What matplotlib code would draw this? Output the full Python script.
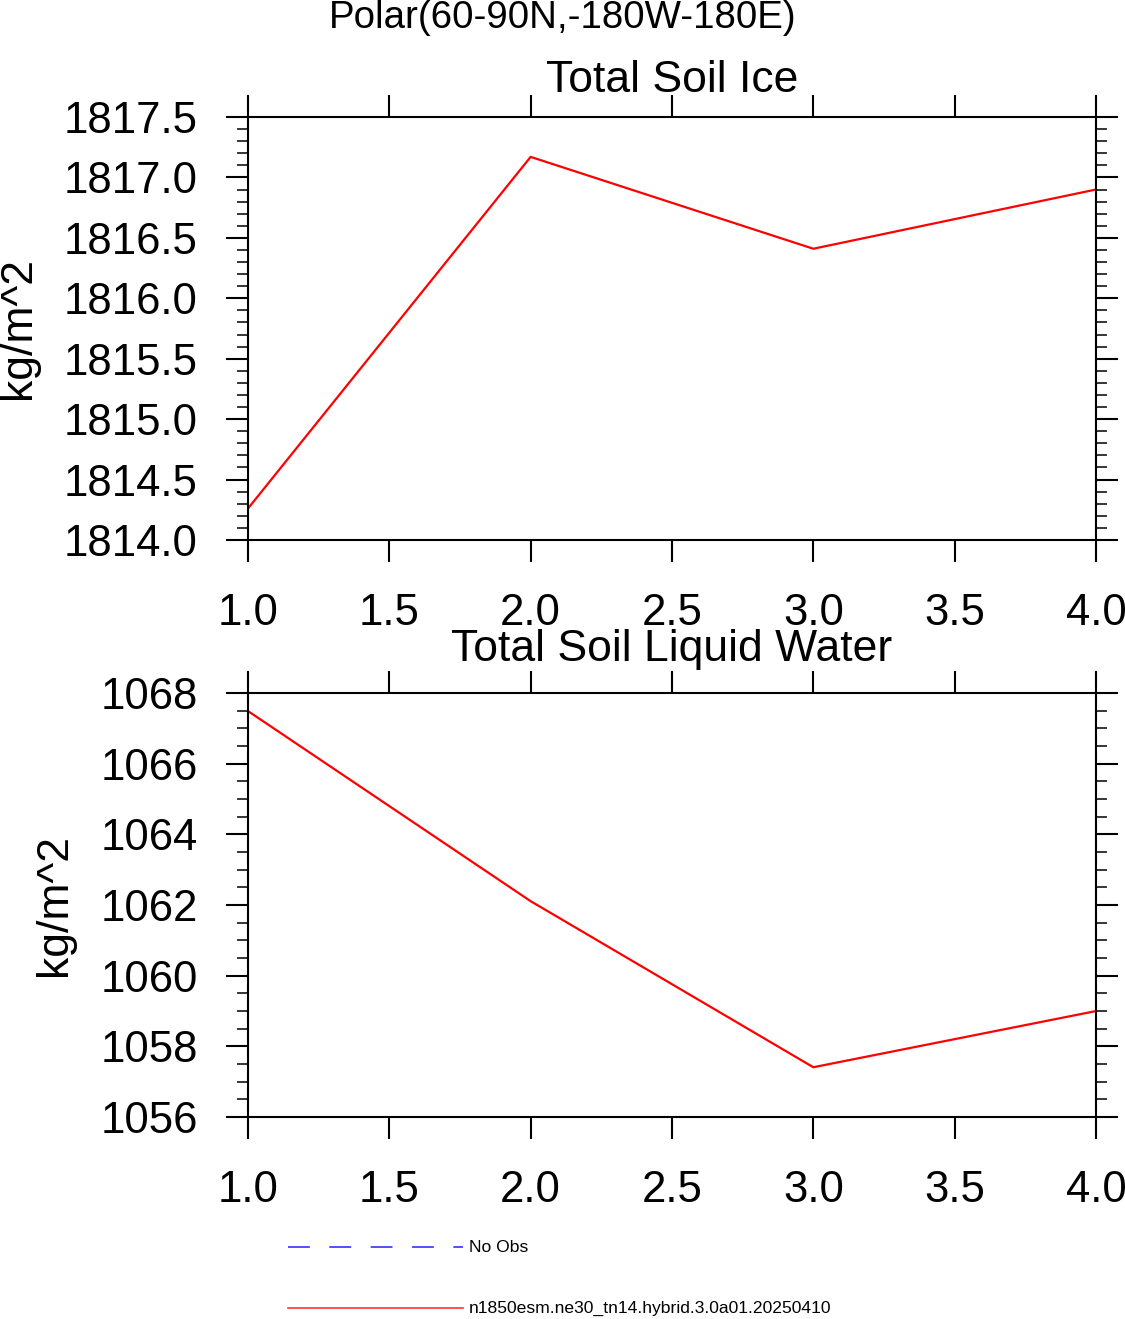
import matplotlib
matplotlib.use('Agg')
import matplotlib.pyplot as plt
from matplotlib.ticker import MultipleLocator, FormatStrFormatter

plt.rcParams['font.family'] = ['Liberation Sans', 'DejaVu Sans']

# data
years = [1, 2, 3, 4]
soil_ice = [1814.26, 1817.17, 1816.41, 1816.90]
soil_liq = [1067.49, 1062.11, 1057.41, 1059.00]
case_name = 'n1850esm.ne30_tn14.hybrid.3.0a01.20250410'

fig = plt.figure(figsize=(11.25, 13.19), dpi=100)

ax1 = fig.add_axes([0.2204, 0.5906, 0.7538, 0.3207])
ax2 = fig.add_axes([0.2204, 0.1531, 0.7538, 0.3215])


def style(ax, ylo, yhi, major, minor, fmt):
    ax.set_xlim(1, 4)
    ax.set_ylim(ylo, yhi)
    ax.xaxis.set_major_locator(MultipleLocator(0.5))
    ax.xaxis.set_major_formatter(FormatStrFormatter('%.1f'))
    ax.yaxis.set_major_locator(MultipleLocator(major))
    ax.yaxis.set_minor_locator(MultipleLocator(minor))
    ax.yaxis.set_major_formatter(FormatStrFormatter(fmt))
    for s in ax.spines.values():
        s.set_linewidth(1.5)
    ax.tick_params(which='both', direction='out', top=True, right=True)
    ax.tick_params(which='major', length=16, width=1.5, labelsize=31.5)
    ax.tick_params(axis='x', which='major', pad=22)
    ax.tick_params(axis='y', which='major', pad=20)
    ax.tick_params(which='minor', length=8, width=1.1)
    ax.set_ylabel('kg/m^2', fontsize=32, labelpad=18)


ax1.plot(years, soil_ice, color='red', lw=1.6)
style(ax1, 1814.0, 1817.5, 0.5, 0.1, '%.1f')
ax1.set_title('Total Soil Ice', fontsize=32, pad=18)

ax2.plot(years, soil_liq, color='red', lw=1.6)
style(ax2, 1056, 1068, 2, 0.5, '%d')
ax2.set_title('Total Soil Liquid Water', fontsize=32, pad=23)

fig.text(0.5, 0.986, 'Polar(60-90N,-180W-180E)', ha='center', va='center', fontsize=27.7)

# legend drawn below the panels, in figure pixel units
leg = fig.add_axes([0, 0, 1, 1])
leg.set_xlim(0, 1125)
leg.set_ylim(1319, 0)
leg.axis('off')
leg.plot([288, 463], [1247, 1247], color='#3333ff', lw=1.2, dashes=(13.1, 11.7))
leg.plot([288, 463], [1308, 1308], color='#ff3333', lw=1.2)
leg.text(469, 1247, 'No Obs', fontsize=12.6, va='center')
leg.text(469, 1308, case_name, fontsize=12.6, va='center')

fig.savefig('out.png', dpi=100)
